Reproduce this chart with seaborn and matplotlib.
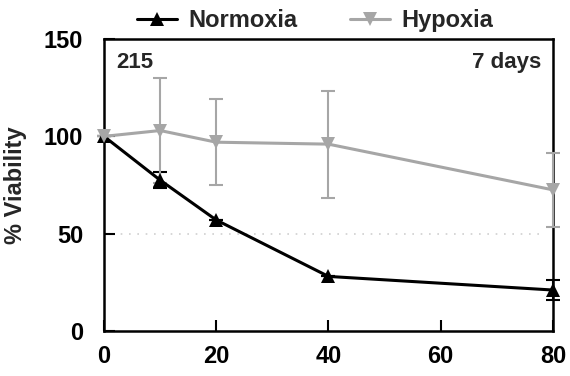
import pandas as pd
import matplotlib
matplotlib.use("Agg")
import matplotlib.pyplot as plt
import seaborn as sns

sns.set_theme(style="ticks")
plt.rcParams['font.family'] = ['Liberation Sans', 'DejaVu Sans']
plt.rcParams['font.weight'] = 'bold'

# --- Data ---
conc = [0, 10, 20, 40, 80]
normoxia = [100, 77.5, 57, 28, 21]
normoxia_err = [0, 4, 0, 0, 5]
hypoxia = [100, 103, 97, 96, 72.5]
hypoxia_err = [0, 27, 22, 27.5, 19]
series = ["Normoxia", "Hypoxia"]
colors = {"Normoxia": "black", "Hypoxia": "#a6a6a6"}
markers = {"Normoxia": "^", "Hypoxia": "v"}

df = pd.concat([
    pd.DataFrame({"conc": conc, "viability": normoxia, "err": normoxia_err, "group": "Normoxia"}),
    pd.DataFrame({"conc": conc, "viability": hypoxia, "err": hypoxia_err, "group": "Hypoxia"}),
])

fig = plt.figure(figsize=(5.7, 3.76), dpi=100)
ax = fig.add_axes([0.1825, 0.120, 0.7875, 0.776])

ax.axhline(50, xmin=0, xmax=0.975, color="#d0d0d0", lw=1.2, ls=(0, (1, 4)), zorder=0)

# error bars drawn above the spines (spines sit at zorder 2.5)
for name in ["Normoxia", "Hypoxia"]:
    sub = df[df["group"] == name]
    eb = ax.errorbar(sub["conc"], sub["viability"], yerr=sub["err"], fmt="none",
                     ecolor=colors[name], elinewidth=1.5, capsize=5, capthick=1.5, zorder=2.6)
    for art in eb.lines[1] + eb.lines[2]:
        art.set_clip_on(False)

sns.lineplot(data=df, x="conc", y="viability", hue="group", style="group",
             hue_order=series, style_order=series, palette=colors, markers=markers,
             dashes=False, markersize=10, markeredgewidth=0, linewidth=2.2,
             ax=ax, zorder=3, clip_on=False)

ax.set_xlim(0, 80)
ax.set_ylim(0, 150)
ax.set_xticks([0, 20, 40, 60, 80])
ax.set_yticks([0, 50, 100, 150])
ax.tick_params(direction="in", length=8, width=1.5, labelsize=17, colors="black")
ax.tick_params(axis="y", pad=15)
ax.tick_params(axis="x", pad=10)
for lbl in ax.get_xticklabels() + ax.get_yticklabels():
    lbl.set_fontweight("bold")
ax.set_xlabel("")
ax.set_ylabel("% Viability", fontsize=17, fontweight="bold", labelpad=12)
for s in ax.spines.values():
    s.set_color("black")
    s.set_linewidth(1.8)

ax.text(0.028, 0.955, "215", transform=ax.transAxes, ha="left", va="top",
        fontsize=16, fontweight="bold")
ax.text(0.975, 0.955, "7 days", transform=ax.transAxes, ha="right", va="top",
        fontsize=16, fontweight="bold")

ax.legend(loc="lower center", bbox_to_anchor=(0.47, 1.0), ncol=2, frameon=False,
          handlelength=1.7, columnspacing=2.2, handletextpad=0.5,
          borderpad=0.1, borderaxespad=0.2,
          prop={"weight": "bold", "size": 17})

fig.savefig("out.png", dpi=100)
